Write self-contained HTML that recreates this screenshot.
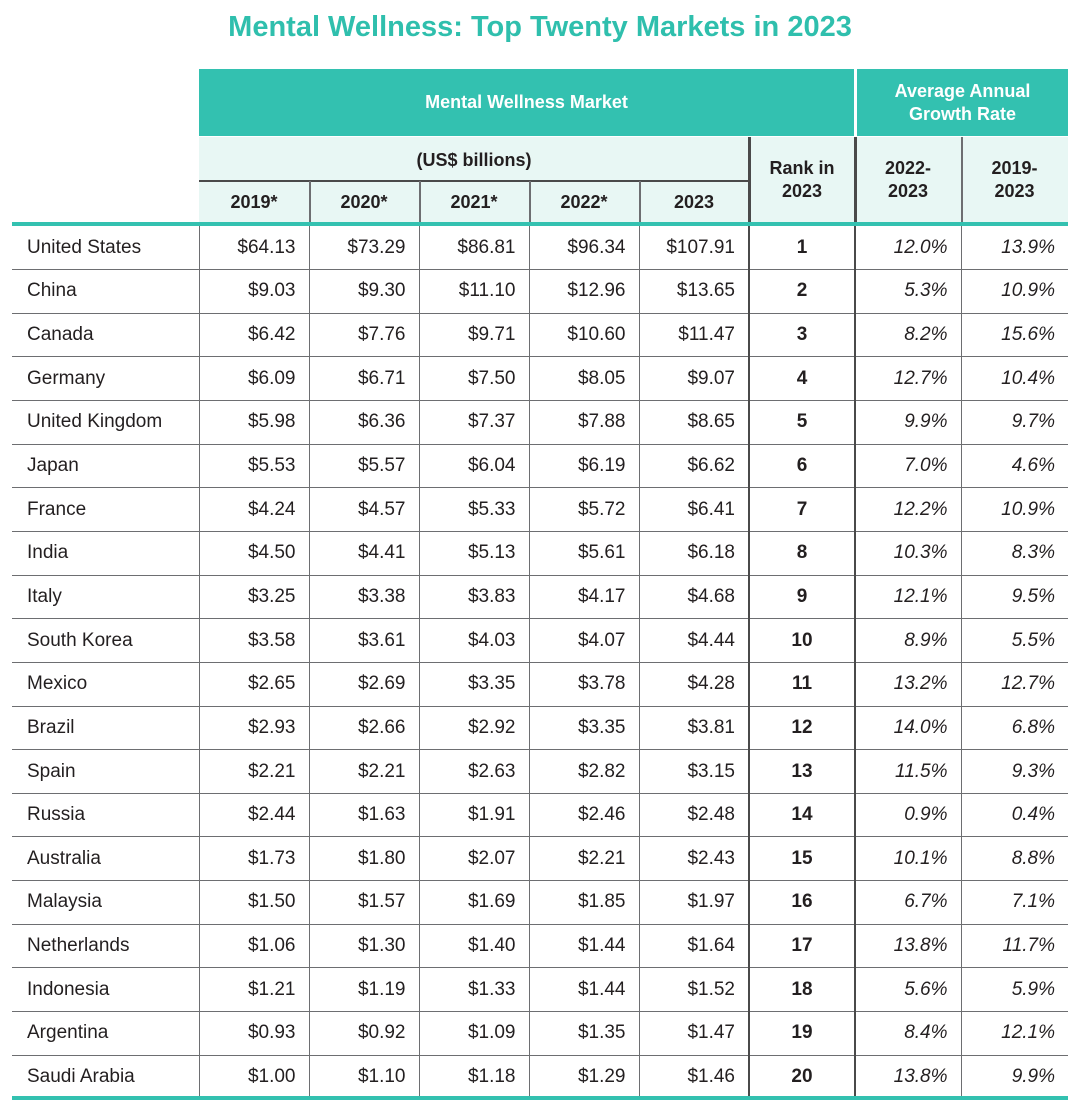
<!DOCTYPE html>
<html><head><meta charset="utf-8"><style>
*{margin:0;padding:0;box-sizing:border-box}
body{width:1076px;height:1107px;background:#fff;position:relative;font-family:"Liberation Sans",sans-serif;color:#231f20;overflow:hidden}
.a{position:absolute}
.title{left:0;width:1076px;top:11px;text-align:center;font-size:29px;font-weight:bold;color:#2fbfad;padding-left:4px}
.hdr{background:#33c1b0;color:#fff;font-weight:bold;font-size:18px;display:flex;align-items:center;justify-content:center;text-align:center;line-height:23px}
.lt{background:#e8f7f4}
.hb{font-weight:bold;font-size:18px;display:flex;align-items:center;justify-content:center;text-align:center;line-height:23px;color:#231f20}
table{position:absolute;left:12px;top:226px;width:1056px;border-collapse:collapse;table-layout:fixed}
td{height:43.65px;border-bottom:1.5px solid #6d6e71;border-left:1.5px solid #6d6e71;font-size:19px;text-align:right;padding-right:13px}
td:first-child{border-left:none;text-align:left;padding-left:15px}
td.r{text-align:center;font-weight:bold;padding-right:0;border-left:2.5px solid #4a4a4a}
td.p{font-style:italic}
td.p1{border-left:2.5px solid #4a4a4a}
tr:last-child td{border-bottom:none}
.vl{background:#6d6e71;width:1.5px}
</style></head><body>
<div class="a title">Mental Wellness: Top Twenty Markets in 2023</div>
<div class="a hdr" style="left:199px;top:69px;width:655px;height:67px">Mental Wellness Market</div>
<div class="a hdr" style="left:857px;top:69px;width:211px;height:67px">Average Annual<br>Growth Rate</div>
<div class="a lt" style="left:199px;top:137px;width:869px;height:86px"></div>
<div class="a hb" style="left:199px;top:140px;width:550px;height:40px">(US$ billions)</div>
<div class="a" style="left:199px;top:180px;width:550px;height:1.5px;background:#4a4a4a"></div>
<div class="a hb" style="left:199px;top:182px;width:110px;height:40px">2019*</div>
<div class="a hb" style="left:309px;top:182px;width:110px;height:40px">2020*</div>
<div class="a hb" style="left:419px;top:182px;width:110px;height:40px">2021*</div>
<div class="a hb" style="left:529px;top:182px;width:110px;height:40px">2022*</div>
<div class="a hb" style="left:639px;top:182px;width:110px;height:40px">2023</div>
<div class="a hb" style="left:749px;top:137px;width:106px;height:86px">Rank in<br>2023</div>
<div class="a hb" style="left:855px;top:137px;width:106px;height:86px">2022-<br>2023</div>
<div class="a hb" style="left:961px;top:137px;width:107px;height:86px">2019-<br>2023</div>
<div class="a vl" style="left:309px;top:181px;height:42px"></div>
<div class="a vl" style="left:419px;top:181px;height:42px"></div>
<div class="a vl" style="left:529px;top:181px;height:42px"></div>
<div class="a vl" style="left:639px;top:181px;height:42px"></div>
<div class="a" style="left:748px;top:137px;width:2.5px;height:86px;background:#4a4a4a"></div>
<div class="a" style="left:854px;top:69px;width:3px;height:68px;background:#fff"></div>
<div class="a" style="left:854px;top:137px;width:2.5px;height:86px;background:#4a4a4a"></div>
<div class="a vl" style="left:961px;top:137px;height:86px"></div>
<div class="a" style="left:12px;top:222px;width:1056px;height:4px;background:#33c1b0"></div>
<table>
<colgroup><col style="width:187px"><col style="width:110px"><col style="width:110px"><col style="width:110px"><col style="width:110px"><col style="width:110px"><col style="width:106px"><col style="width:106px"><col style="width:107px"></colgroup>
<tr><td>United States</td><td>$64.13</td><td>$73.29</td><td>$86.81</td><td>$96.34</td><td>$107.91</td><td class="r">1</td><td class="p p1">12.0%</td><td class="p">13.9%</td></tr>
<tr><td>China</td><td>$9.03</td><td>$9.30</td><td>$11.10</td><td>$12.96</td><td>$13.65</td><td class="r">2</td><td class="p p1">5.3%</td><td class="p">10.9%</td></tr>
<tr><td>Canada</td><td>$6.42</td><td>$7.76</td><td>$9.71</td><td>$10.60</td><td>$11.47</td><td class="r">3</td><td class="p p1">8.2%</td><td class="p">15.6%</td></tr>
<tr><td>Germany</td><td>$6.09</td><td>$6.71</td><td>$7.50</td><td>$8.05</td><td>$9.07</td><td class="r">4</td><td class="p p1">12.7%</td><td class="p">10.4%</td></tr>
<tr><td>United Kingdom</td><td>$5.98</td><td>$6.36</td><td>$7.37</td><td>$7.88</td><td>$8.65</td><td class="r">5</td><td class="p p1">9.9%</td><td class="p">9.7%</td></tr>
<tr><td>Japan</td><td>$5.53</td><td>$5.57</td><td>$6.04</td><td>$6.19</td><td>$6.62</td><td class="r">6</td><td class="p p1">7.0%</td><td class="p">4.6%</td></tr>
<tr><td>France</td><td>$4.24</td><td>$4.57</td><td>$5.33</td><td>$5.72</td><td>$6.41</td><td class="r">7</td><td class="p p1">12.2%</td><td class="p">10.9%</td></tr>
<tr><td>India</td><td>$4.50</td><td>$4.41</td><td>$5.13</td><td>$5.61</td><td>$6.18</td><td class="r">8</td><td class="p p1">10.3%</td><td class="p">8.3%</td></tr>
<tr><td>Italy</td><td>$3.25</td><td>$3.38</td><td>$3.83</td><td>$4.17</td><td>$4.68</td><td class="r">9</td><td class="p p1">12.1%</td><td class="p">9.5%</td></tr>
<tr><td>South Korea</td><td>$3.58</td><td>$3.61</td><td>$4.03</td><td>$4.07</td><td>$4.44</td><td class="r">10</td><td class="p p1">8.9%</td><td class="p">5.5%</td></tr>
<tr><td>Mexico</td><td>$2.65</td><td>$2.69</td><td>$3.35</td><td>$3.78</td><td>$4.28</td><td class="r">11</td><td class="p p1">13.2%</td><td class="p">12.7%</td></tr>
<tr><td>Brazil</td><td>$2.93</td><td>$2.66</td><td>$2.92</td><td>$3.35</td><td>$3.81</td><td class="r">12</td><td class="p p1">14.0%</td><td class="p">6.8%</td></tr>
<tr><td>Spain</td><td>$2.21</td><td>$2.21</td><td>$2.63</td><td>$2.82</td><td>$3.15</td><td class="r">13</td><td class="p p1">11.5%</td><td class="p">9.3%</td></tr>
<tr><td>Russia</td><td>$2.44</td><td>$1.63</td><td>$1.91</td><td>$2.46</td><td>$2.48</td><td class="r">14</td><td class="p p1">0.9%</td><td class="p">0.4%</td></tr>
<tr><td>Australia</td><td>$1.73</td><td>$1.80</td><td>$2.07</td><td>$2.21</td><td>$2.43</td><td class="r">15</td><td class="p p1">10.1%</td><td class="p">8.8%</td></tr>
<tr><td>Malaysia</td><td>$1.50</td><td>$1.57</td><td>$1.69</td><td>$1.85</td><td>$1.97</td><td class="r">16</td><td class="p p1">6.7%</td><td class="p">7.1%</td></tr>
<tr><td>Netherlands</td><td>$1.06</td><td>$1.30</td><td>$1.40</td><td>$1.44</td><td>$1.64</td><td class="r">17</td><td class="p p1">13.8%</td><td class="p">11.7%</td></tr>
<tr><td>Indonesia</td><td>$1.21</td><td>$1.19</td><td>$1.33</td><td>$1.44</td><td>$1.52</td><td class="r">18</td><td class="p p1">5.6%</td><td class="p">5.9%</td></tr>
<tr><td>Argentina</td><td>$0.93</td><td>$0.92</td><td>$1.09</td><td>$1.35</td><td>$1.47</td><td class="r">19</td><td class="p p1">8.4%</td><td class="p">12.1%</td></tr>
<tr><td>Saudi Arabia</td><td>$1.00</td><td>$1.10</td><td>$1.18</td><td>$1.29</td><td>$1.46</td><td class="r">20</td><td class="p p1">13.8%</td><td class="p">9.9%</td></tr>
</table>
<div class="a" style="left:12px;top:1096px;width:1056px;height:4px;background:#33c1b0"></div>
</body></html>
